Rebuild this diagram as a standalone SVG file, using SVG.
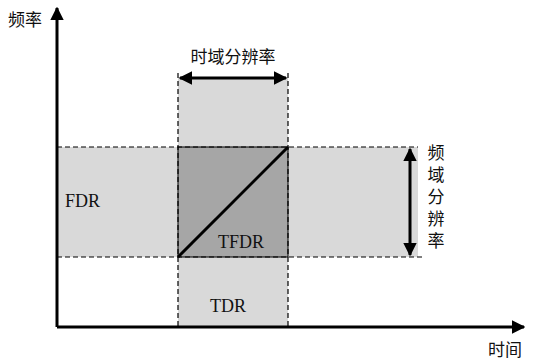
<svg xmlns="http://www.w3.org/2000/svg" width="535" height="362" viewBox="0 0 535 362">
<defs>
<style>
.dash{stroke:#000;stroke-width:1.2;stroke-dasharray:5,3;fill:none}
.ax{stroke:#000;stroke-width:3;fill:none}
.lt{fill:#d9d9d9}
.cjk{font-family:"Noto Sans CJK SC","Noto Serif CJK SC",serif;font-size:17px;fill:#111}
.vert{writing-mode:vertical-rl;letter-spacing:5px}
.lat{font-family:"Liberation Serif",serif;font-size:18px;fill:#111}
</style>
<marker id="ah" viewBox="0 0 10 10" refX="9" refY="5" markerWidth="4.5" markerHeight="4.5" orient="auto-start-reverse" markerUnits="strokeWidth">
<path d="M0,0 L10,5 L0,10 z" fill="#000"/>
</marker>
</defs>
<rect width="535" height="362" fill="#fff"/>
<g id="bands">
<rect class="lt" x="178" y="77" width="110" height="250"/>
<rect class="lt" x="57" y="147" width="361" height="110"/>
</g>
<g id="tfdr">
<rect x="178" y="147" width="110" height="110" fill="#a6a6a6" stroke="#000" stroke-width="1"/>
<line x1="178" y1="257" x2="288" y2="147" stroke="#000" stroke-width="3"/>
<text class="lat" x="218" y="248">TFDR</text>
</g>
<g id="connectors">
<line class="dash" x1="178" y1="73" x2="178" y2="327"/>
<line class="dash" x1="288" y1="73" x2="288" y2="327"/>
<line class="dash" x1="57" y1="147" x2="418" y2="147"/>
<line class="dash" x1="57" y1="257" x2="423" y2="257"/>
<line class="ax" x1="57" y1="327" x2="57" y2="8" marker-end="url(#ah)"/>
<line class="ax" x1="57" y1="327" x2="524" y2="327" marker-end="url(#ah)"/>
<line class="ax" x1="180" y1="78" x2="286" y2="78" marker-start="url(#ah)" marker-end="url(#ah)"/>
<line class="ax" x1="410" y1="149" x2="410" y2="255" marker-start="url(#ah)" marker-end="url(#ah)"/>
</g>
<g id="labels">
<text class="cjk" x="8" y="26">频率</text>
<text class="cjk" x="488" y="356">时间</text>
<text class="cjk" x="233" y="63" text-anchor="middle">时域分辨率</text>
<text class="cjk vert" x="436" y="144">频域分辨率</text>
<text class="lat" x="65" y="207">FDR</text>
<text class="lat" x="210" y="312">TDR</text>
</g>
</svg>
